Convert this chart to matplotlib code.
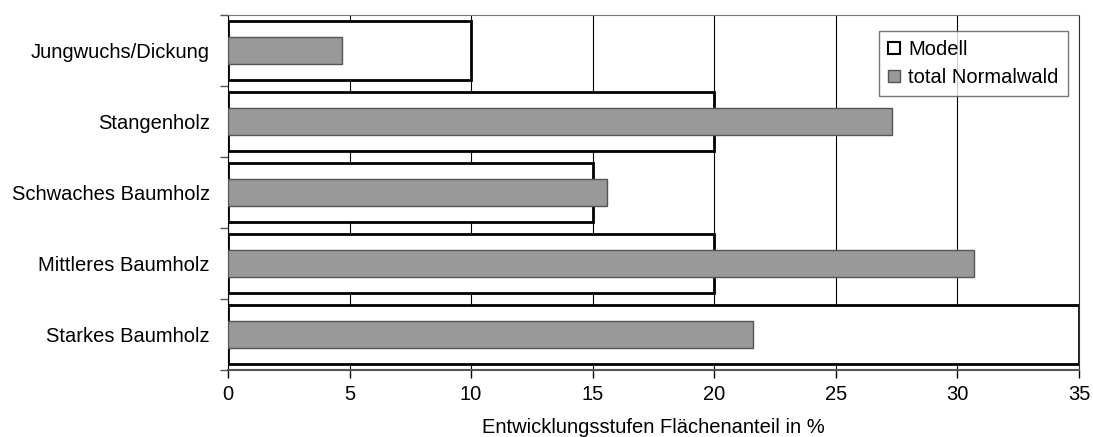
import matplotlib.pyplot as plt
import numpy as np

# categories (top to bottom) and values
categories = ["Jungwuchs/Dickung", "Stangenholz", "Schwaches Baumholz",
              "Mittleres Baumholz", "Starkes Baumholz"]
modell = [10, 20, 15, 20, 35]
normalwald = [4.7, 27.3, 15.6, 30.7, 21.6]
xticks = [0, 5, 10, 15, 20, 25, 30, 35]

plt.rcParams['font.family'] = ['Liberation Sans', 'DejaVu Sans']
FS = 14.5

fig = plt.figure(figsize=(10.93, 4.37), dpi=100)
ax = fig.add_axes([0.2086, 0.1533, 0.7785, 0.8124])

y = np.arange(len(categories))
ax.barh(y, modell, height=0.83, color="white", edgecolor="black",
        linewidth=2, label="Modell", zorder=2)
ax.barh(y, normalwald, height=0.37, color="#999999", edgecolor="#555555",
        linewidth=1, label="total Normalwald", zorder=3)

ax.set_xlim(0, 35)
ax.set_ylim(len(categories) - 0.5, -0.5)
ax.set_xticks(xticks)
ax.set_yticks(y)
ax.set_yticklabels(categories, fontsize=FS)
ax.set_yticks(np.arange(-0.5, len(categories)), minor=True)
ax.tick_params(axis="y", which="major", length=0, pad=13)
ax.tick_params(axis="y", which="minor", length=6, width=1, color="#555555")
ax.tick_params(axis="x", length=6, width=1, labelsize=FS, pad=5)
ax.xaxis.grid(True, color="black", linewidth=0.8, zorder=0)
ax.set_axisbelow(True)
ax.set_xlabel("Entwicklungsstufen Flächenanteil in %", fontsize=FS, labelpad=10)

ax.spines["left"].set_color("black")
ax.spines["bottom"].set_color("#555555")
ax.spines["bottom"].set_linewidth(1.5)
ax.spines["top"].set_color("#777777")
ax.spines["right"].set_color("#333333")

leg = ax.legend(loc="upper right", bbox_to_anchor=(0.987, 0.955),
                fontsize=FS, frameon=True, fancybox=False,
                handlelength=0.6, handleheight=0.6, handletextpad=0.4,
                borderpad=0.45, labelspacing=0.45, borderaxespad=0)
leg.get_frame().set_edgecolor("#555555")
leg.get_frame().set_linewidth(1)
leg.legend_handles[0].set_linewidth(1.5)

fig.savefig("out.png", dpi=100)
